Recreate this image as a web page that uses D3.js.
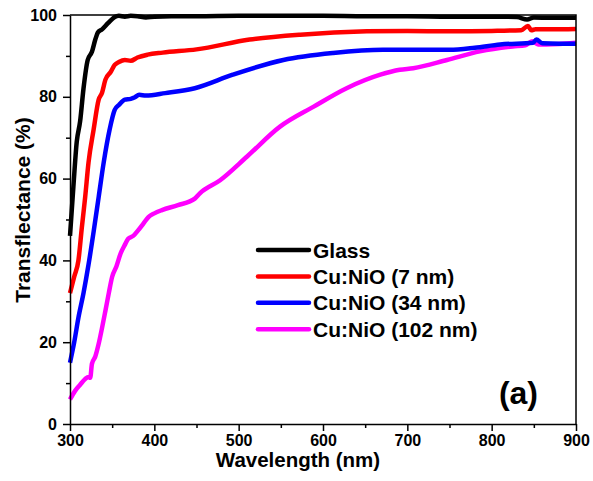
<!DOCTYPE html>
<html>
<head>
<meta charset="utf-8">
<script src="https://cdn.jsdelivr.net/npm/d3@7"></script>
<style>
  body { margin: 0; background: #fff; }
  svg text { font-family: "Liberation Sans", Arial, sans-serif; font-weight: bold; fill: #000; }
</style>
</head>
<body>
<svg width="593" height="481"></svg>
<script>
// transflectance spectra
const glassWl = [300,304,308,312,316,321,326,330,333,338,345,350,353,358,365,372,380,390,400,420,450,500,550,600,650,700,750,800,830,842,850,870,900];
const glassT  = [46,58,69,74,82,89,91,94,95.7,96.5,98,99,99.5,99.8,99.6,99.8,99.7,99.4,99.6,99.7,99.7,99.8,99.8,99.8,99.7,99.7,99.6,99.6,99.5,98.9,99.4,99.3,99.3];

const redWl = [300,305,310,314,318,322,328,334,338,342,348,353,358,365,372,380,392,410,450,513,573,652,700,750,800,835,843,847,852,870,900];
const redT  = [32,36,40,48,55.5,64,72,79.3,81,84.2,86,87.8,88.5,89,88.8,89.6,90.3,90.8,91.6,94,95.2,96,96.1,96,96.1,96.3,97.3,96.3,96.5,96.5,96.6];

const blueWl = [300,305,310,316,322,328,334,340,347,353,358,365,372,377,382,390,413,448,493,553,612,671,700,750,780,810,849,853,860,880,900];
const blueT  = [15,20,26,32,39,47,55.5,64,72,76.8,78,79.3,79.5,79.9,80.5,80.3,80.9,82.1,85.4,89,90.7,91.5,91.5,91.5,92,92.8,93.2,94,93.1,93,93];

const pinkWl = [300,306,312,318,322,324,326,330,334,338,342,346,350,355,360,365,369,375,381,387,393,400,409,428,448,454,478,510,549,589,628,668,691,707,747,786,825,840,848,855,865,900];
const pinkT  = [6,8.1,9.6,11,11.5,11.3,14.7,16.5,19.6,23.5,27.7,32,36,38.5,41.7,43.8,45.3,46,47.4,49,50.6,51.5,52.3,53.5,55.1,56.4,59.6,65.4,72.7,77.6,82.1,85.4,86.6,87,89,91.1,92.3,92.6,93.6,92.8,92.8,93.2];

const seriesNames = ["Glass", "Cu:NiO (7 nm)", "Cu:NiO (34 nm)", "Cu:NiO (102 nm)"];
const seriesColors = ["#000000", "#ff0000", "#0000ff", "#ff00ff"];
const xTicks = [300,400,500,600,700,800,900];
const yTicks = [0,20,40,60,80,100];

const series = [
  {name: seriesNames[0], color: seriesColors[0], wl: glassWl, t: glassT},
  {name: seriesNames[1], color: seriesColors[1], wl: redWl, t: redT},
  {name: seriesNames[2], color: seriesColors[2], wl: blueWl, t: blueT},
  {name: seriesNames[3], color: seriesColors[3], wl: pinkWl, t: pinkT}
];

let svg = d3.select("svg");
const plotL = 70, plotR = 576, plotT = 15, plotB = 424;

const x = d3.scaleLinear().domain([300, 900]).range([plotL, plotR]);
const y = d3.scaleLinear().domain([0, 100]).range([plotB, plotT]);

// curves
const line = d3.line()
  .x(function (d) { return x(d[0]); })
  .y(function (d) { return y(d[1]); })
  .curve(d3.curveMonotoneX);

svg.append("g").selectAll("path")
  .data(series.slice().reverse())
  .enter()
  .append("path")
  .attr("d", function (d) { return line(d.wl.map(function (w, i) { return [w, d.t[i]]; })); })
  .attr("fill", "none")
  .attr("stroke", function (d) { return d.color; })
  .attr("stroke-width", 4.5)
  .attr("stroke-linejoin", "round");

// frame (top and right, no ticks)
svg.append("path")
  .attr("d", `M${plotL},${plotT}H${plotR}V${plotB}`)
  .attr("fill", "none").attr("stroke", "#000").attr("stroke-width", 1.5);

// bottom axis: minor ticks then major
const xMinor = d3.range(350, 900, 100);
svg.append("g").attr("transform", `translate(0,${plotB})`)
  .call(d3.axisBottom(x).tickValues(xMinor).tickSize(4).tickFormat(""))
  .call(g => g.select(".domain").remove())
  .selectAll("line").attr("stroke-width", 1.5);

const gx = svg.append("g").attr("transform", `translate(0,${plotB})`)
  .call(d3.axisBottom(x).tickValues(xTicks).tickSize(7).tickSizeOuter(0).tickPadding(4));
gx.select(".domain").attr("stroke-width", 1.5);
gx.selectAll("line").attr("stroke-width", 1.5);
gx.selectAll("text").attr("font-size", 16).attr("font-family", null);

// left axis
const yMinor = d3.range(10, 100, 20);
svg.append("g").attr("transform", `translate(${plotL},0)`)
  .call(d3.axisLeft(y).tickValues(yMinor).tickSize(4).tickFormat(""))
  .call(g => g.select(".domain").remove())
  .selectAll("line").attr("stroke-width", 1.5);

const gy = svg.append("g").attr("transform", `translate(${plotL},0)`)
  .call(d3.axisLeft(y).tickValues(yTicks).tickSize(7).tickSizeOuter(0).tickPadding(6));
gy.select(".domain").attr("stroke-width", 1.5);
gy.selectAll("line").attr("stroke-width", 1.5);
gy.selectAll("text").attr("font-size", 16).attr("font-family", null);

// axis titles
svg.append("text")
  .attr("x", 298).attr("y", 467)
  .attr("text-anchor", "middle").attr("font-size", 20.5)
  .text("Wavelength (nm)");

svg.append("text")
  .attr("transform", "translate(30,210) rotate(-90)")
  .attr("text-anchor", "middle").attr("font-size", 21)
  .text("Transflectance (%)");

// legend
const legend = svg.append("g").selectAll("g")
  .data(series)
  .enter()
  .append("g")
  .attr("transform", function (d, i) { return `translate(258,${250 + i * 26.4})`; });

legend.append("line")
  .attr("x1", 0).attr("x2", 51)
  .attr("stroke", function (d) { return d.color; })
  .attr("stroke-width", 4.5).attr("stroke-linecap", "round");

legend.append("text")
  .attr("x", 55).attr("y", 7.5)
  .attr("font-size", 21)
  .text(function (d) { return d.name; });

// panel label
svg.append("text")
  .attr("x", 538).attr("y", 404)
  .attr("text-anchor", "end").attr("font-size", 32)
  .text("(a)");
</script>
</body>
</html>
